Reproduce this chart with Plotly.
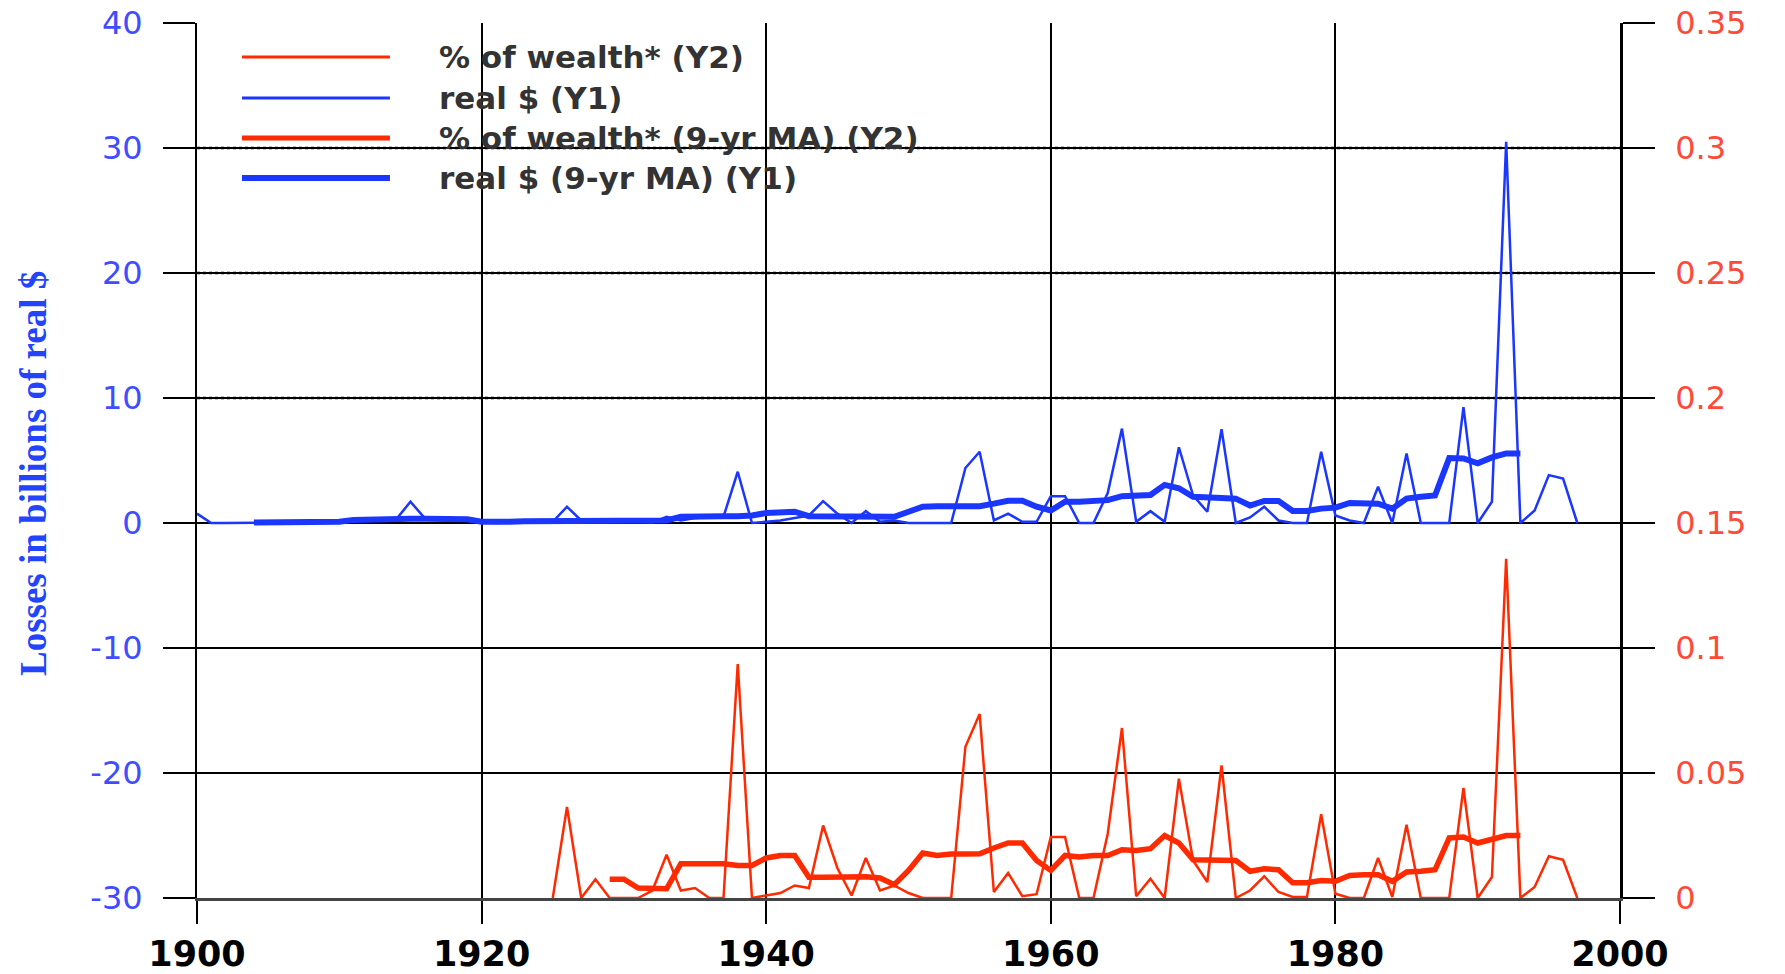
import plotly.graph_objects as go

# ---------------- data ----------------
years_real = list(range(1900, 1998))
real_dollars = [
    0.75, 0, 0, 0, 0.05, 0.05, 0.05, 0.05, 0.05, 0.1,          # 1900-1909
    0.05, 0.2, 0.3, 0.3, 0.3, 1.7, 0.4, 0.35, 0.35, 0.35,      # 1910-1919
    0.15, 0, 0.05, 0.1, 0.1, 0.1, 1.3, 0.2, 0.15, 0.2,         # 1920-1929
    0.2, 0.1, 0.05, 0.5, 0.2, 0.4, 0.45, 0.5, 4.1, 0,          # 1930-1939
    0.1, 0.2, 0.4, 0.6, 1.75, 0.75, 0, 0.95, 0.1, 0.2,         # 1940-1949
    0, 0, 0, 0, 4.4, 5.7, 0.2, 0.75, 0.1, 0.1,                 # 1950-1959
    2.15, 2.15, 0, 0, 2.4, 7.55, 0.1, 0.95, 0.1, 6.06,         # 1960-1969
    2.2, 0.9, 7.5, 0, 0.45, 1.3, 0.2, 0, 0, 5.7,               # 1970-1979
    0.6, 0.2, 0, 2.9, 0, 5.57, 0, 0, 0, 9.27,                  # 1980-1989
    0, 1.7, 30.5, 0, 1.0, 3.83, 3.56, 0,                       # 1990-1997
]

years_real_ma = list(range(1904, 1994))
real_dollars_ma = [
    0.05, 0.05, 0.05, 0.08, 0.1, 0.1,                          # 1904-1909
    0.1, 0.25, 0.3, 0.35, 0.35, 0.35, 0.35, 0.35, 0.35, 0.3,   # 1910-1919
    0.1, 0.05, 0.1, 0.15, 0.15, 0.2, 0.2, 0.2, 0.15, 0.2,      # 1920-1929
    0.15, 0.1, 0.15, 0.2, 0.5, 0.55, 0.55, 0.55, 0.55, 0.6,    # 1930-1939
    0.8, 0.9, 0.9, 0.55, 0.55, 0.55, 0.55, 0.55, 0.55, 0.5,    # 1940-1949
    0.9, 1.3, 1.35, 1.35, 1.35, 1.35, 1.55, 1.78, 1.78, 1.3,   # 1950-1959
    1.0, 1.7, 1.7, 1.78, 1.83, 2.15, 2.15, 2.24, 3.05, 2.78,   # 1960-1969
    2.1, 2.0, 2.0, 1.95, 1.4, 1.77, 1.77, 0.96, 0.96, 1.15,    # 1970-1979
    1.23, 1.6, 1.6, 1.55, 1.15, 1.95, 2.1, 2.2, 5.2, 5.17,     # 1980-1989
    4.77, 5.25, 5.57, 5.57,                                    # 1990-1993
]

years_wealth = list(range(1925, 1998))
pct_wealth = [
    0, 0.0364, 0, 0.0075, 0,                                   # 1925-1929
    0, 0, 0.003, 0.0173, 0.003, 0.004, 0, 0, 0.0936, 0,        # 1930-1939
    0.001, 0.002, 0.005, 0.004, 0.029, 0.012, 0.001, 0.016, 0.003, 0.005,   # 1940-1949
    0.002, 0, 0, 0, 0.0605, 0.0736, 0.0024, 0.01, 0.0007, 0.0015,          # 1950-1959
    0.0244, 0.0244, 0, 0, 0.0257, 0.068, 0.0007, 0.0077, 0, 0.0477,        # 1960-1969
    0.015, 0.0064, 0.053, 0, 0.003, 0.0087, 0.0024, 0.0004, 0.0004, 0.0335, # 1970-1979
    0.0017, 0, 0, 0.016, 0.0004, 0.0293, 0, 0, 0, 0.044,                  # 1980-1989
    0, 0.0084, 0.1357, 0, 0.0044, 0.0167, 0.0153, 0,                       # 1990-1997
]

years_wealth_ma = list(range(1929, 1994))
pct_wealth_ma = [
    0.0075,                                                                  # 1929
    0.0075, 0.004, 0.004, 0.0037, 0.0137, 0.0137, 0.0137, 0.0137, 0.013, 0.013,  # 1930-1939
    0.016, 0.017, 0.017, 0.0083, 0.0083, 0.0085, 0.0085, 0.0085, 0.008, 0.0053,  # 1940-1949
    0.011, 0.018, 0.017, 0.0176, 0.0176, 0.0177, 0.020, 0.022, 0.022, 0.015,     # 1950-1959
    0.011, 0.017, 0.0164, 0.017, 0.017, 0.0193, 0.019, 0.0197, 0.025, 0.022,     # 1960-1969
    0.0153, 0.0153, 0.0153, 0.015, 0.0107, 0.0117, 0.0113, 0.0061, 0.0061, 0.007, # 1970-1979
    0.0067, 0.009, 0.0093, 0.0093, 0.0067, 0.0104, 0.0107, 0.0113, 0.024, 0.0244, # 1980-1989
    0.022, 0.0233, 0.025, 0.025,                                                 # 1990-1993
]

x_ticks = [1900, 1920, 1940, 1960, 1980, 2000]
y1_ticks = [-30, -20, -10, 0, 10, 20, 30, 40]
y1_ticktext = ["-30", "-20", "-10", "0", "10", "20", "30", "40"]
y2_ticks = [0, 0.05, 0.1, 0.15, 0.2, 0.25, 0.3, 0.35]
y2_ticktext = ["0", "0.05", "0.1", "0.15", "0.2", "0.25", "0.3", "0.35"]
dotted_grid = [10, 20, 30]

legend_labels = ["% of wealth* (Y2)", "real $ (Y1)",
                 "% of wealth* (9-yr MA) (Y2)", "real $ (9-yr MA) (Y1)"]

# ---------------- styling ----------------
BLUE = "#1a36ff"
RED = "#ff2a00"
BLUE_TXT = "#3f4cff"
RED_TXT = "#ff4a38"

fig = go.Figure()
fig.add_trace(go.Scatter(x=years_wealth, y=pct_wealth, yaxis="y2", mode="lines",
                         line=dict(color=RED, width=2.5), name=legend_labels[0]))
fig.add_trace(go.Scatter(x=years_real, y=real_dollars, mode="lines",
                         line=dict(color=BLUE, width=2.5), name=legend_labels[1]))
fig.add_trace(go.Scatter(x=years_wealth_ma, y=pct_wealth_ma, yaxis="y2", mode="lines",
                         line=dict(color=RED, width=5.5), name=legend_labels[2]))
fig.add_trace(go.Scatter(x=years_real_ma, y=real_dollars_ma, mode="lines",
                         line=dict(color=BLUE, width=6), name=legend_labels[3]))

# dotted overlay on some gridlines
for v in dotted_grid:
    fig.add_shape(type="line", xref="paper", x0=0, x1=1, yref="y", y0=v, y1=v,
                  line=dict(color="black", width=2.5, dash="dot"), layer="below")

# manual legend
leg_y = [0.9611, 0.9143, 0.8686, 0.8229]
leg_col = [RED, BLUE, RED, BLUE]
leg_w = [3, 3, 5, 6]
for yy, c, w, lab in zip(leg_y, leg_col, leg_w, legend_labels):
    fig.add_shape(type="line", xref="paper", yref="paper", x0=0.0316, x1=0.1356,
                  y0=yy, y1=yy, line=dict(color=c, width=w), layer="above")
    fig.add_annotation(xref="paper", yref="paper", x=0.1690, y=yy, xanchor="left",
                       yanchor="middle", text=lab, showarrow=False,
                       font=dict(family="DejaVu Sans", size=31, color="#333333",
                                 weight="bold"))

# y-axis title
fig.add_annotation(xref="paper", yref="paper", x=-0.1145, y=0.4846, textangle=-90,
                   xanchor="center", yanchor="middle", showarrow=False,
                   text="Losses in billions of real $",
                   font=dict(family="Liberation Serif", size=37, color="#2244ff",
                             weight="bold"))

# page body has an 8px margin: figure sized/offset so the plot area lands where the reference has it
fig.update_layout(
    width=1777, height=966,
    margin=dict(l=189, r=165, t=15, b=76, autoexpand=False),
    paper_bgcolor="white", plot_bgcolor="white",
    showlegend=False,
    xaxis=dict(range=[1900, 2000], tickvals=x_ticks, showgrid=True, automargin=False,
               gridcolor="black", gridwidth=2, zeroline=False,
               showline=True, linecolor="#444444", linewidth=3, mirror=False,
               ticks="outside", ticklen=23, tickwidth=2, tickcolor="black",
               ticklabelstandoff=0, ticklabeloverflow="allow",
               tickfont=dict(family="DejaVu Sans", size=35, color="black", weight="bold")),
    yaxis=dict(range=[-30, 40], tickvals=y1_ticks, ticktext=y1_ticktext, automargin=False,
               showgrid=True, gridcolor="black", gridwidth=1.5, zeroline=False,
               showline=True, linecolor="black", linewidth=2,
               ticks="outside", ticklen=32, tickwidth=1.5, tickcolor="black",
               ticklabelstandoff=14, ticklabeloverflow="allow",
               tickfont=dict(family="DejaVu Sans", size=32, color=BLUE_TXT)),
    yaxis2=dict(range=[0, 0.35], tickvals=y2_ticks, ticktext=y2_ticktext, automargin=False,
                overlaying="y", side="right", showgrid=False, zeroline=False,
                showline=True, linecolor="black", linewidth=2.5,
                ticks="outside", ticklen=32, tickwidth=1.5, tickcolor="black",
                ticklabelstandoff=14, ticklabeloverflow="allow",
                tickfont=dict(family="DejaVu Sans", size=32, color=RED_TXT)),
)

fig.write_html("out.html")
